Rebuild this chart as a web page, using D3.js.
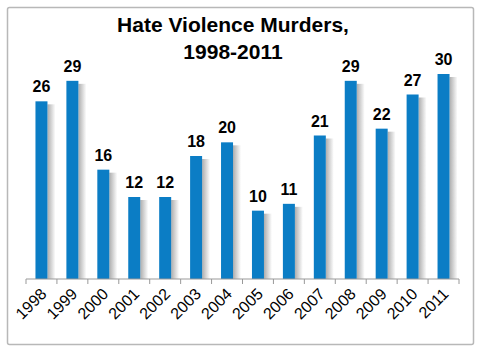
<!doctype html>
<html>
  <head>
  <script type="text/javascript" src="https://cdn.jsdelivr.net/npm/d3@7"></script>
  <style>
    body { margin: 0; background: #fff; }
  </style>
</head>
  <body>
<svg width="480" height="351"></svg>
<script type="text/javascript">
var years = ["1998","1999","2000","2001","2002","2003","2004","2005","2006","2007","2008","2009","2010","2011"];
var murders = [26, 29, 16, 12, 12, 18, 20, 10, 11, 21, 29, 22, 27, 30];
var titleLines = ["Hate Violence Murders,", "1998-2011"];

var svg = d3.select("svg");

// outer frame
svg.append("rect")
  .attr("x", 7.5).attr("y", 7.5)
  .attr("width", 466).attr("height", 337)
  .attr("rx", 2)
  .style("fill", "white")
  .style("stroke", "#b8b8b8")
  .style("stroke-width", "1.5px");

var defs = svg.append("defs");
var shade = defs.append("linearGradient").attr("id", "shade");
shade.append("stop").attr("offset", "0%").attr("stop-color", "#8a8a8a");
shade.append("stop").attr("offset", "100%").attr("stop-color", "#ffffff");

var xScale = d3.scaleBand().domain(years).range([26, 459]);
var yScale = d3.scaleLinear().domain([0, 30]).range([279, 74]);
var barW = 12;

var barG = svg.selectAll("g.bar")
  .data(years)
  .enter()
  .append("g")
  .attr("class", "bar")
  .attr("transform", d => "translate(" + (xScale(d) + xScale.bandwidth() / 2) + ",0)");

// soft shadow to the right of each bar
barG.append("rect")
  .attr("x", barW / 2)
  .attr("y", (d, i) => yScale(murders[i]) + 3)
  .attr("width", 8)
  .attr("height", (d, i) => 279 - yScale(murders[i]) - 3)
  .style("fill", "url(#shade)")
  .style("opacity", 0.7);

barG.append("rect")
  .attr("x", -barW / 2)
  .attr("y", (d, i) => yScale(murders[i]))
  .attr("width", barW)
  .attr("height", (d, i) => 279 - yScale(murders[i]))
  .style("fill", "#0b7dc5");

barG.append("text")
  .attr("y", (d, i) => yScale(murders[i]) - 9)
  .attr("text-anchor", "middle")
  .style("font-family", "Liberation Sans, Arial, sans-serif")
  .style("font-weight", "bold")
  .style("font-size", "16px")
  .text((d, i) => murders[i]);

// x axis
var xAxis = d3.axisBottom(xScale).tickSize(0).tickFormat("");
var axisG = svg.append("g").attr("transform", "translate(0,279)").call(xAxis);
axisG.select(".domain").attr("d", "M26,0H459").style("stroke", "#999");
axisG.selectAll(".bnd")
  .data(d3.range(years.length + 1))
  .enter()
  .append("line")
  .attr("x1", i => 26 + i * xScale.step())
  .attr("x2", i => 26 + i * xScale.step())
  .attr("y1", 0).attr("y2", 5)
  .style("stroke", "#999");

svg.selectAll("text.year")
  .data(years)
  .enter()
  .append("text")
  .attr("class", "year")
  .attr("text-anchor", "end")
  .attr("transform", d => "translate(" + (xScale(d) + xScale.bandwidth() / 2 + 6) + ",295) rotate(-45)")
  .style("font-family", "Liberation Sans, Arial, sans-serif")
  .style("font-size", "16px")
  .text(d => d);

svg.selectAll("text.title")
  .data(titleLines)
  .enter()
  .append("text")
  .attr("class", "title")
  .attr("x", 233)
  .attr("y", (d, i) => 32 + i * 27)
  .attr("text-anchor", "middle")
  .style("font-family", "Liberation Sans, Arial, sans-serif")
  .style("font-weight", "bold")
  .style("font-size", "21px")
  .text(d => d);
</script>
</body>
</html>
